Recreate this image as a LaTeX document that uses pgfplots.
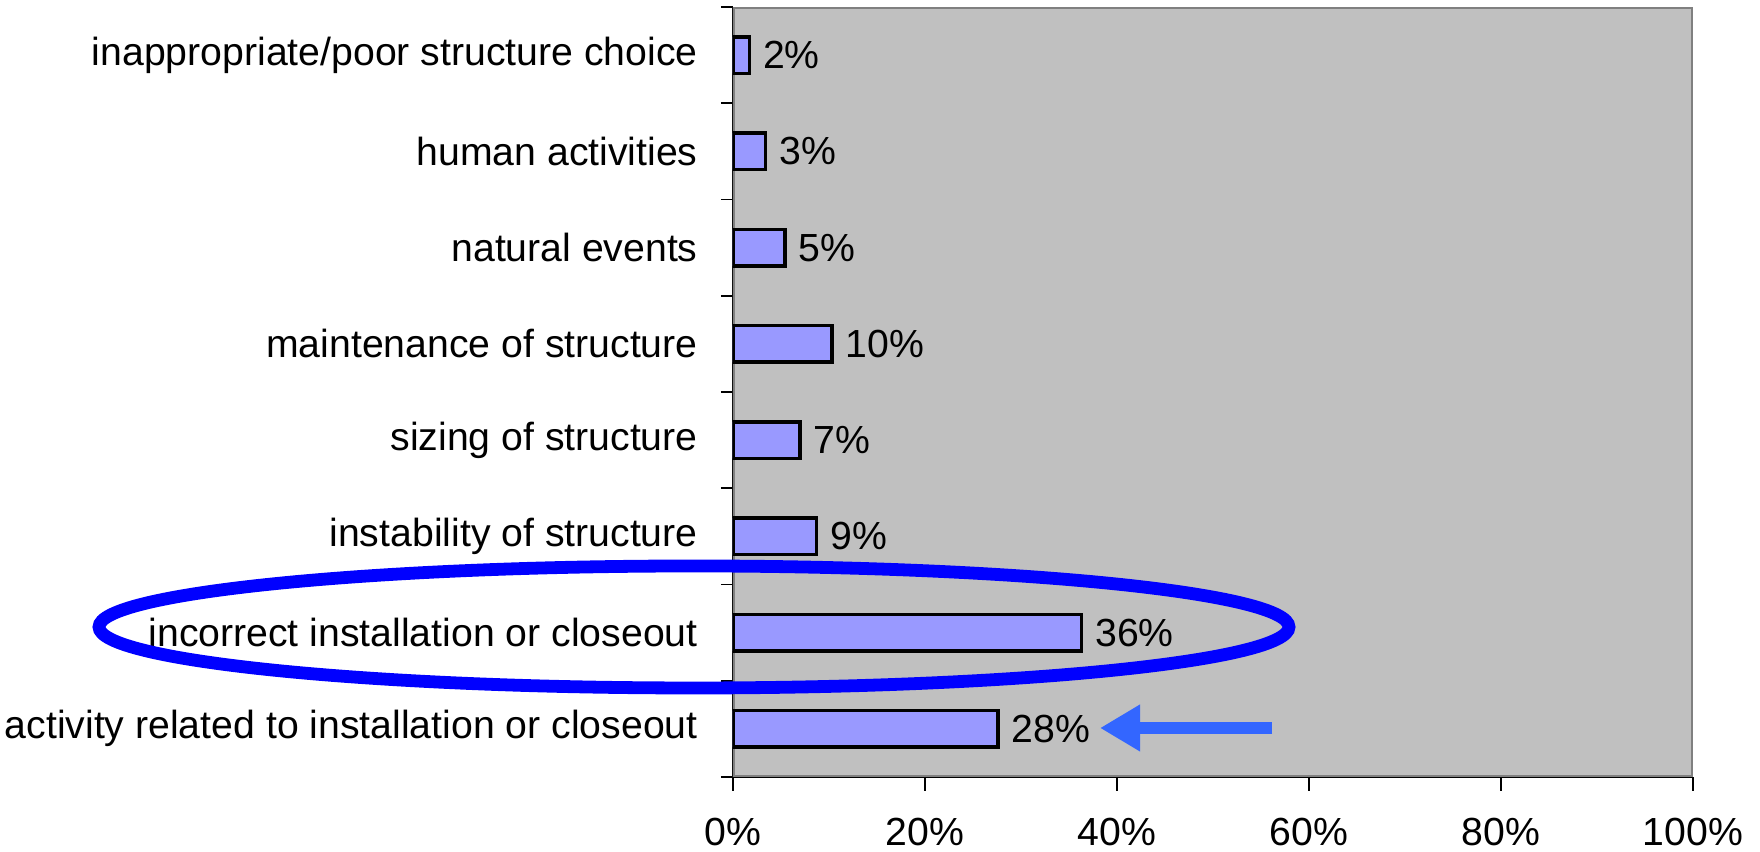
\documentclass[border=0pt]{standalone}
\usepackage{pgfplots}
\pgfplotsset{compat=1.18}
\usepackage{fontspec}
\setmainfont{Liberation Sans}
\usetikzlibrary{arrows.meta}
\definecolor{plotbg}{RGB}{192,192,192}
\definecolor{barfill}{RGB}{153,153,255}
\definecolor{framegray}{RGB}{128,128,128}
\definecolor{ellblue}{RGB}{0,0,255}
\definecolor{arrowblue}{RGB}{51,102,255}
\newcommand{\lblfont}{\fontsize{9.8}{11.5}\selectfont}
\begin{document}
\begin{tikzpicture}
\useasboundingbox (0,0) rectangle (440pt,213pt);
\begin{axis}[
  at={(183.25pt,18.75pt)}, anchor=south west,
  scale only axis, width=240pt, height=192.5pt,
  xbar, bar width=0.38,
  xmin=0, xmax=1, ymin=-0.5, ymax=7.5,
  axis background/.style={fill=plotbg},
  axis x line*=bottom, axis y line*=left,
  axis line style={black, line width=0.6pt},
  /pgf/number format/assume math mode=true,
  xtick={0,0.2,0.4,0.6,0.8,1},
  xticklabels={0\%,20\%,40\%,60\%,80\%,100\%},
  ytick={0,1,2,3,4,5,6,7},
  yticklabels={activity related to installation or closeout,
    incorrect installation or closeout,
    instability of structure,
    sizing of structure,
    maintenance of structure,
    natural events,
    human activities,
    inappropriate/poor structure choice},
  major y tick style={draw=none},
  minor ytick={-0.5,0.5,1.5,2.5,3.5,4.5,5.5,6.5,7.5},
  tick align=outside,
  major tick length=3.5pt, minor tick length=3pt,
  tick style={black, line width=0.4pt},
  tick label style={font=\lblfont},
  xticklabel style={yshift=-3.2pt},
  yticklabel style={xshift=-1.8pt},
  point meta=explicit symbolic,
  nodes near coords,
  nodes near coords style={font=\lblfont, anchor=west, inner sep=3pt},
]
\draw[framegray, line width=0.8pt] (rel axis cs:0,0) rectangle (rel axis cs:1,1);
\addplot[fill=barfill, draw=black, line width=0.9pt] coordinates {
  (0.276,0) [28\%]
  (0.363,1) [36\%]
  (0.087,2) [9\%]
  (0.070,3) [7\%]
  (0.103,4) [10\%]
  (0.054,5) [5\%]
  (0.034,6) [3\%]
  (0.017,7) [2\%]
};
\end{axis}
\draw[ellblue, line width=3.2pt] (173.5pt,56.25pt) ellipse [x radius=148.75pt, y radius=15.25pt];
\draw[arrowblue, line width=3pt, -{Triangle[length=10pt,width=11pt]}] (318pt,31pt) -- (275pt,31pt);
\end{tikzpicture}
\end{document}
